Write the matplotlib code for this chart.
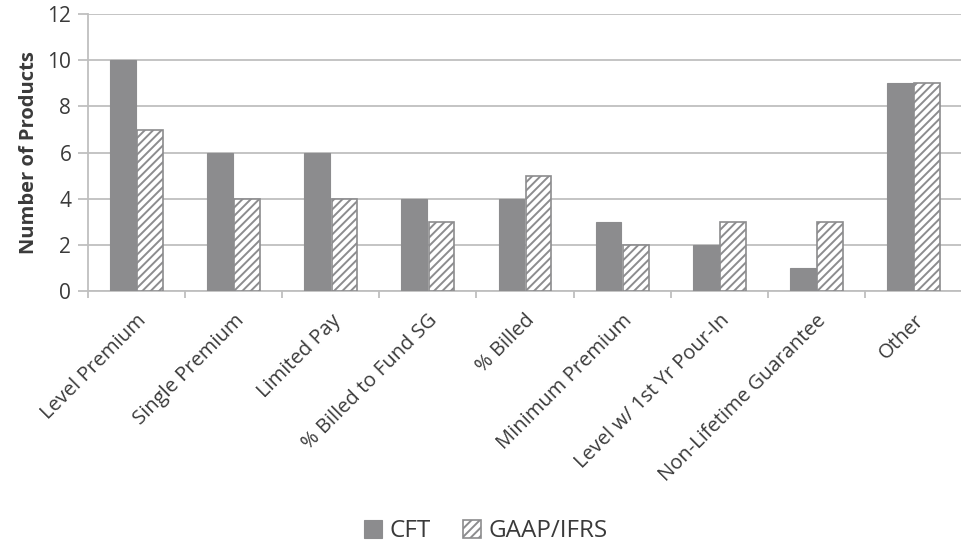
import matplotlib.pyplot as plt
import numpy as np

plt.rcParams['font.family'] = ['Open Sans', 'DejaVu Sans']
plt.rcParams['hatch.color'] = '#8c8c8e'
plt.rcParams['hatch.linewidth'] = 1.4

categories = ['Level Premium', 'Single Premium', 'Limited Pay', '% Billed to Fund SG',
              '% Billed', 'Minimum Premium', 'Level w/ 1st Yr Pour-In',
              'Non-Lifetime Guarantee', 'Other']
cft = [10, 6, 6, 4, 4, 3, 2, 1, 9]
gaap_ifrs = [7, 4, 4, 3, 5, 2, 3, 3, 9]

grey = '#8c8c8e'
grid_grey = '#bfbfbf'
text_col = '#3a3a3a'

fig = plt.figure(figsize=(9.62, 5.46), dpi=100)
ax = fig.add_axes([0.0915, 0.467, 0.9085, 0.507])

x = np.arange(len(categories))
w = 0.265
ax.bar(x - 0.14, cft, w, color=grey, edgecolor=grey, linewidth=0.8, label='CFT', zorder=3)
ax.bar(x + 0.14, gaap_ifrs, w, color='white', edgecolor=grey, linewidth=1.2,
       hatch='////', label='GAAP/IFRS', zorder=3)

ax.set_ylim(0, 12)
ax.set_yticks(range(0, 13, 2))
ax.set_xlim(-0.5, 8.4)
ax.grid(axis='y', color=grid_grey, linewidth=1.3, zorder=0)

# category labels sit at the centres, tick marks at the boundaries
ax.set_xticks(x)
ax.set_xticklabels(categories, rotation=45, ha='right', rotation_mode='anchor',
                   fontsize=14.5, color=text_col)
ax.tick_params(axis='x', length=0, pad=14)
ax.set_xticks(np.arange(-0.5, 9, 1), minor=True)
ax.tick_params(axis='x', which='minor', length=5, color=grid_grey, width=1.3)
ax.tick_params(axis='y', length=7, color=grid_grey, width=1.3, labelsize=15,
               labelcolor=text_col, pad=5)

for s in ['top', 'right']:
    ax.spines[s].set_visible(False)
for s in ['left', 'bottom']:
    ax.spines[s].set_color(grid_grey)
    ax.spines[s].set_linewidth(1.3)

ax.set_ylabel('Number of Products', fontsize=14.5, fontweight='bold', color=text_col, labelpad=6)

fig.legend(loc='lower center', bbox_to_anchor=(0.505, -0.035), ncol=2, frameon=False,
           fontsize=17.5, handlelength=0.75, handleheight=0.75, handletextpad=0.3,
           columnspacing=1.3, labelcolor=text_col)

fig.savefig('out.png', dpi=100)
